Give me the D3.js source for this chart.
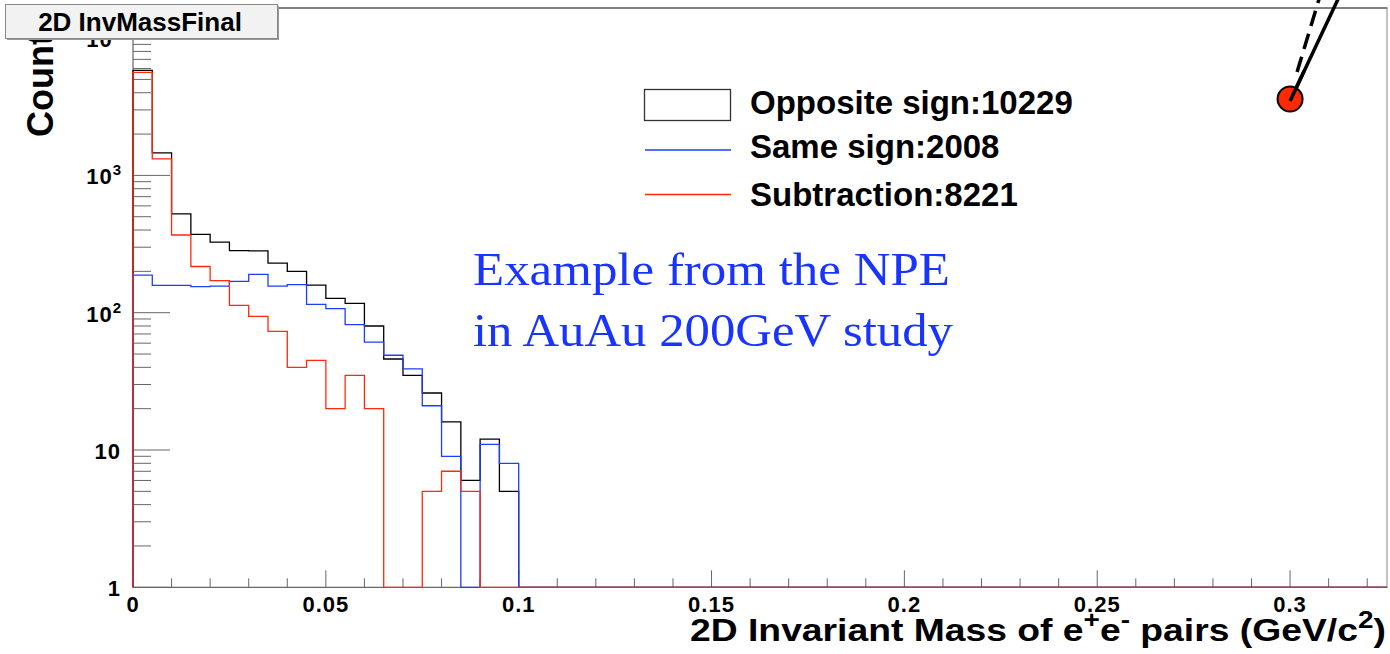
<!DOCTYPE html>
<html>
<head>
<meta charset="utf-8">
<script src="https://cdn.jsdelivr.net/npm/d3@7"></script>
<style>
  html, body { margin: 0; padding: 0; background: #fff; }
  svg { display: block; }
  text { font-family: "Liberation Sans", Arial, Helvetica, sans-serif; font-weight: bold; }
</style>
</head>
<body>
<svg id="chart" width="1390" height="654"></svg>
<script>
// ---------------- data ----------------
const binWidth = 0.005;               // GeV/c^2 per bin
const xMax = 0.325;
const oppositeSign = [5820, 1460, 525, 372, 327, 283, 282, 230, 200, 159, 127, 117, 80, 46, 35, 26, 16, 6, 12, 5];
const sameSign     = [188, 158, 158, 155, 156, 169, 190, 156, 160, 115, 107, 82, 61, 49, 39, 21, 9, 0, 11, 8];
const subtraction  = [5630, 1320, 368, 217, 171, 113, 94, 73, 40, 45, 20, 35, 20, 0, 0, 5, 7, 5, 0, 0];
const xTickValues = [0, 0.05, 0.1, 0.15, 0.2, 0.25, 0.3];
const xTickLabels = ["0", "0.05", "0.1", "0.15", "0.2", "0.25", "0.3"];
const yTickValues = [1, 10, 100, 1000, 10000];
const yTickBase   = ["1", "10", "10", "10", "10"];
const yTickExp    = ["", "", "2", "3", "4"];
const legendLabels = ["Opposite sign:10229", "Same sign:2008", "Subtraction:8221"];
const titleText = "2D InvMassFinal";
const noteLines = ["Example from the NPE", "in AuAu 200GeV study"];
const markerPoint = [0.3, 3600];

// ---------------- layout ----------------
const svg = d3.select("#chart");
const L = 133, R = 1386.5, T = 8, B = 587.3;
const x = d3.scaleLinear().domain([0, xMax]).range([L, R]);
const y = d3.scaleLog().domain([1, Math.pow(10, (B - T) / 137.3)]).range([B, T]);

const colBlack = "#000000", colBlue = "#1f3cff", colRed = "#ff2a0a";
const axisCol = "#666666";

// frame
svg.append("line").attr("x1", L).attr("x2", R + 1).attr("y1", T).attr("y2", T)
  .attr("stroke", "#000").attr("stroke-width", 1.2);
svg.append("line").attr("x1", R + 0.5).attr("x2", R + 0.5).attr("y1", T).attr("y2", B)
  .attr("stroke", "#888").attr("stroke-width", 1);

// y axis: major & minor ticks (inward)
const yMinor = [];
[1, 10, 100, 1000, 10000].forEach(d => { for (let k = 2; k <= 9; k++) { const v = k * d; if (v < y.domain()[1]) yMinor.push(v); } });
const gy = svg.append("g");
gy.append("line").attr("x1", L).attr("x2", L).attr("y1", T).attr("y2", B).attr("stroke", axisCol).attr("stroke-width", 1.2);
gy.selectAll(".ymaj").data(yTickValues).enter().append("line")
  .attr("x1", L).attr("x2", L + 37).attr("y1", d => y(d)).attr("y2", d => y(d))
  .attr("stroke", axisCol).attr("stroke-width", 1);
gy.selectAll(".ymin").data(yMinor).enter().append("line")
  .attr("x1", L).attr("x2", L + 18).attr("y1", d => y(d)).attr("y2", d => y(d))
  .attr("stroke", axisCol).attr("stroke-width", 1);
const ylab = gy.selectAll(".ylab").data(yTickValues).enter().append("text")
  .attr("x", 121).attr("y", d => y(d) + 9)
  .attr("text-anchor", "end").attr("font-size", 22).attr("letter-spacing", 1).attr("fill", "#000");
ylab.each(function (d, i) {
  const t = d3.select(this);
  t.append("tspan").text(yTickBase[i]);
  if (yTickExp[i]) t.append("tspan").attr("dy", -9).attr("font-size", 15).attr("letter-spacing", 0).text(yTickExp[i]);
});

// x axis: ticks (upward)
const xMinor = d3.range(0.01, xMax, 0.01).filter(v => Math.abs(v / 0.05 - Math.round(v / 0.05)) > 1e-6);
const gx = svg.append("g");
gx.append("line").attr("x1", L).attr("x2", R + 1).attr("y1", B).attr("y2", B).attr("stroke", axisCol).attr("stroke-width", 1.2);
gx.selectAll(".xmaj").data(xTickValues).enter().append("line")
  .attr("x1", d => x(d)).attr("x2", d => x(d)).attr("y1", B).attr("y2", B - 17)
  .attr("stroke", axisCol).attr("stroke-width", 1);
gx.selectAll(".xmin").data(xMinor).enter().append("line")
  .attr("x1", d => x(d)).attr("x2", d => x(d)).attr("y1", B).attr("y2", B - 9)
  .attr("stroke", axisCol).attr("stroke-width", 1);
gx.selectAll(".xlab").data(xTickValues).enter().append("text")
  .attr("x", d => x(d)).attr("y", 612)
  .attr("text-anchor", "middle").attr("font-size", 22).attr("letter-spacing", 1).attr("fill", "#000")
  .text((d, i) => xTickLabels[i]);

// histograms (empty bins sit on the axis floor, as on a log plot)
function stepPath(vals) {
  let d = `M${x(0)},${B}`;
  vals.forEach((v, i) => {
    const yy = v > 0 ? y(v) : B;
    d += `L${x(i * binWidth)},${yy}L${x((i + 1) * binWidth)},${yy}`;
  });
  d += `L${x(vals.length * binWidth)},${B}L${x(xMax)},${B}`;
  return d;
}
[[oppositeSign, colBlack], [sameSign, colBlue], [subtraction, colRed]].forEach(([vals, c]) => {
  svg.append("path").attr("d", stepPath(vals)).attr("fill", "none")
    .attr("stroke", c).attr("stroke-width", 1.3);
});

// legend
const lg = svg.append("g");
lg.append("rect").attr("x", 644.5).attr("y", 89.5).attr("width", 86).attr("height", 31)
  .attr("fill", "#fff").attr("stroke", "#333").attr("stroke-width", 1.3);
lg.append("line").attr("x1", 645).attr("x2", 731).attr("y1", 150).attr("y2", 150).attr("stroke", colBlue).attr("stroke-width", 1.3);
lg.append("line").attr("x1", 645).attr("x2", 731).attr("y1", 194.5).attr("y2", 194.5).attr("stroke", colRed).attr("stroke-width", 1.3);
const legY = [113.5, 158, 206];
lg.selectAll(".lt").data(legendLabels).enter().append("text")
  .attr("x", 750).attr("y", (d, i) => legY[i]).attr("font-size", 33).attr("fill", "#000").text(d => d);

// blue note
const noteW = [477, 480];
svg.selectAll(".note").data(noteLines).enter().append("text")
  .attr("x", 473).attr("y", (d, i) => [285, 346][i])
  .style("font-family", '"Liberation Serif", "Times New Roman", serif').style("font-weight", "normal")
  .attr("font-size", 47).attr("textLength", (d, i) => noteW[i]).attr("lengthAdjust", "spacingAndGlyphs")
  .attr("fill", "#1a34ff").text(d => d);

// marker annotation
const cx = x(markerPoint[0]), cy = y(markerPoint[1]);
svg.append("line").attr("x1", cx + 7).attr("y1", cy - 27).attr("x2", cx + 29).attr("y2", cy - 100)
  .attr("stroke", "#000").attr("stroke-width", 3.5).attr("stroke-dasharray", "16,8");
svg.append("line").attr("x1", cx).attr("y1", cy + 2).attr("x2", cx + 48).attr("y2", cy - 100)
  .attr("stroke", "#000").attr("stroke-width", 3.5);
svg.append("circle").attr("cx", cx).attr("cy", cy).attr("r", 12.5)
  .attr("fill", "#ff2a00").attr("stroke", "#000").attr("stroke-width", 2);
svg.append("line").attr("x1", cx).attr("y1", cy + 2).attr("x2", cx + 14).attr("y2", cy - 28)
  .attr("stroke", "#000").attr("stroke-width", 3.5);

// x title (condensed to span the measured width)
const xt = svg.append("text").attr("x", 0).attr("y", 641).attr("font-size", 32).attr("fill", "#000");
xt.append("tspan").text("2D Invariant Mass of e");
xt.append("tspan").attr("dy", -13).attr("font-size", 24).text("+");
xt.append("tspan").attr("dy", 13).text("e");
xt.append("tspan").attr("dy", -13).attr("font-size", 24).text("-");
xt.append("tspan").attr("dy", 13).text(" pairs (GeV/c");
xt.append("tspan").attr("dy", -13).attr("font-size", 24).text("2");
xt.append("tspan").attr("dy", 13).text(")");
const bw = xt.node().getBBox().width;
const sx = (1386 - 690) / bw;
xt.attr("transform", `translate(690,0) scale(${sx},1)`);

// y title
svg.append("text").attr("transform", "translate(53,137) rotate(-90)")
  .attr("font-size", 36).attr("fill", "#000").text("Counts");

// title box
svg.append("rect").attr("x", 7).attr("y", 6).attr("width", 272).attr("height", 34)
  .attr("fill", "#999");
svg.append("rect").attr("x", 5.5).attr("y", 4.5).attr("width", 272).attr("height", 34)
  .attr("fill", "#f2f2f2").attr("stroke", "#888").attr("stroke-width", 1);
svg.append("text").attr("x", 140).attr("y", 30.5).attr("text-anchor", "middle")
  .attr("font-size", 26).attr("fill", "#000").text(titleText);
</script>
</body>
</html>
